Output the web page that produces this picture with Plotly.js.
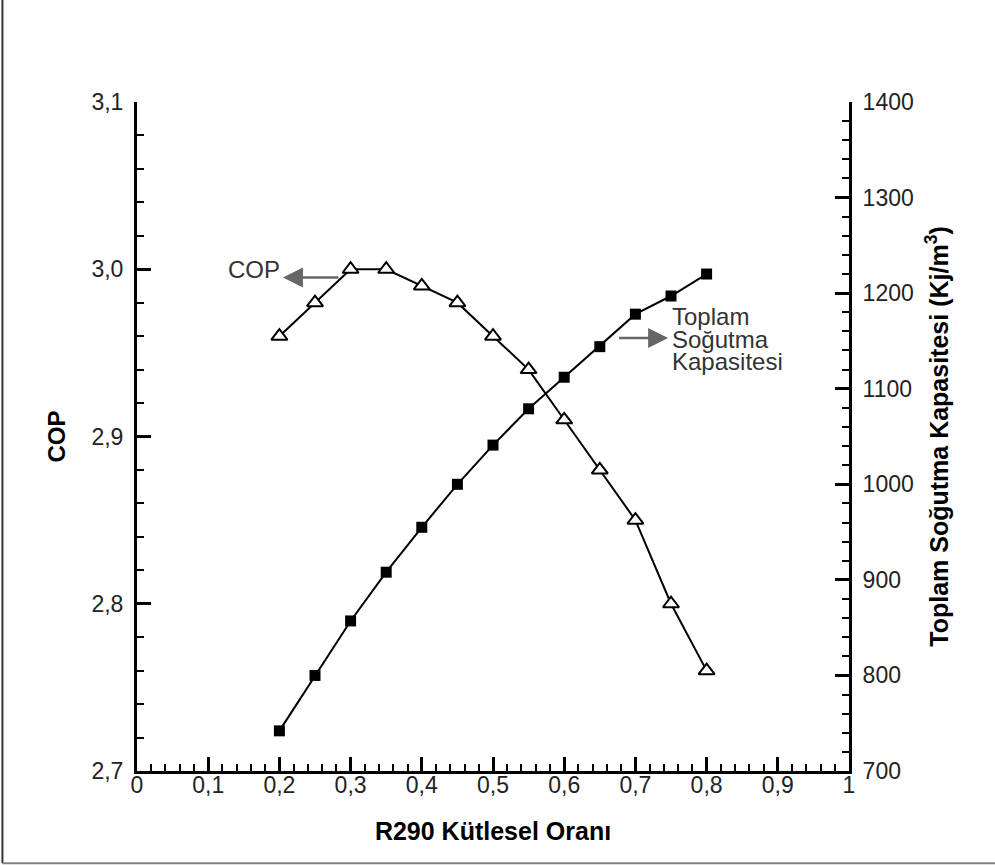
<!DOCTYPE html>
<html>
<head>
<meta charset="utf-8">
<script src="https://cdn.plot.ly/plotly-3.0.1.min.js"></script>
<style>html,body{margin:0;padding:0;background:#fff;}#chart{width:995px;height:865px;}</style>
</head>
<body>
<div id="chart"></div>
<script>
const massRatio = [0.2, 0.25, 0.3, 0.35, 0.4, 0.45, 0.5, 0.55, 0.6, 0.65, 0.7, 0.75, 0.8];
const copValues = [2.96, 2.98, 3.00, 3.00, 2.99, 2.98, 2.96, 2.94, 2.91, 2.88, 2.85, 2.80, 2.76];
const capacityValues = [742, 800, 857, 908, 955, 1000, 1041, 1079, 1112, 1144, 1178, 1197, 1220];
const xTitle = 'R290 Kütlesel Oranı';
const yTitle = 'COP';
const y2Title = 'Toplam Soğutma Kapasitesi (Kj/m<sup>3</sup>)';
const copLabel = 'COP';
const capLabelLines = ['Toplam', 'Soğutma', 'Kapasitesi'];

const FONT = 'Liberation Sans, Arial, sans-serif';

const traces = [
  {
    x: massRatio, y: copValues, yaxis: 'y', type: 'scatter', mode: 'lines+markers',
    line: {color: '#000', width: 2},
    marker: {symbol: 'triangle-up', size: 14, color: '#fff', line: {color: '#000', width: 2}},
    showlegend: false
  },
  {
    x: massRatio, y: capacityValues, yaxis: 'y2', type: 'scatter', mode: 'lines+markers',
    line: {color: '#000', width: 2},
    marker: {symbol: 'square', size: 11, color: '#000', line: {color: '#000', width: 0}},
    showlegend: false
  }
];

const axisCommon = {
  showgrid: false, zeroline: false, showline: true, linecolor: '#000', linewidth: 3,
  ticks: 'inside', ticklen: 14, tickwidth: 3, tickcolor: '#000',
  tickfont: {family: FONT, size: 23, color: '#222'}
};

const layout = {
  width: 995, height: 865,
  margin: {l: 137, r: 146, t: 102, b: 94},
  paper_bgcolor: '#fff', plot_bgcolor: '#fff',
  separators: ', ',
  font: {family: FONT, color: '#000'},
  xaxis: Object.assign({}, axisCommon, {
    range: [0, 1], tick0: 0, dtick: 0.1,
    minor: {ticks: 'inside', ticklen: 7, tickwidth: 2, tickcolor: '#000', dtick: 0.02, tick0: 0},
    title: {text: xTitle, font: {family: FONT, size: 25, color: '#000', weight: 'bold'}, standoff: 26},
    ticklabelstandoff: -9
  }),
  yaxis: Object.assign({}, axisCommon, {
    range: [2.7, 3.1], tick0: 2.7, dtick: 0.1, tickformat: '.1f',
    minor: {ticks: 'inside', ticklen: 7, tickwidth: 2, tickcolor: '#000', dtick: 0.02, tick0: 2.7},
    title: {text: yTitle, font: {family: FONT, size: 24, color: '#000', weight: 'bold'}, standoff: 20},
    ticklabelstandoff: 6
  }),
  yaxis2: Object.assign({}, axisCommon, {
    overlaying: 'y', side: 'right',
    range: [700, 1400], tick0: 700, dtick: 100,
    minor: {ticks: 'inside', ticklen: 7, tickwidth: 2, tickcolor: '#000', dtick: 20, tick0: 700},
    title: {text: y2Title, font: {family: FONT, size: 25, color: '#000', weight: 'bold'}, standoff: 18},
    ticklabelstandoff: 6
  }),
  annotations: [
    {xref: 'x', yref: 'y', axref: 'x', ayref: 'y', x: 0.205, y: 2.995, ax: 0.285, ay: 2.995,
     text: '', showarrow: true, arrowhead: 2, arrowsize: 1.6, arrowwidth: 2.5, arrowcolor: '#666', standoff: 0, startstandoff: 0},
    {xref: 'x', yref: 'y', x: 0.165, y: 3.0, text: copLabel, showarrow: false,
     font: {family: FONT, size: 24, color: '#333'}, xanchor: 'center', yanchor: 'middle'},
    {xref: 'x', yref: 'y2', axref: 'x', ayref: 'y2', x: 0.746, y: 1153, ax: 0.675, ay: 1153,
     text: '', showarrow: true, arrowhead: 2, arrowsize: 1.6, arrowwidth: 2.5, arrowcolor: '#666', standoff: 0, startstandoff: 0},
    {xref: 'x', yref: 'y2', x: 0.749, y: 1176, text: capLabelLines[0], showarrow: false,
     font: {family: FONT, size: 24, color: '#333'}, xanchor: 'left', yanchor: 'middle'},
    {xref: 'x', yref: 'y2', x: 0.749, y: 1152, text: capLabelLines[1], showarrow: false,
     font: {family: FONT, size: 24, color: '#333'}, xanchor: 'left', yanchor: 'middle'},
    {xref: 'x', yref: 'y2', x: 0.749, y: 1129, text: capLabelLines[2], showarrow: false,
     font: {family: FONT, size: 24, color: '#333'}, xanchor: 'left', yanchor: 'middle'}
  ],
  shapes: [
    {type: 'line', xref: 'paper', yref: 'paper', x0: -0.189, x1: -0.189, y0: -0.138, y1: 1.16,
     line: {color: '#333', width: 2}},
    {type: 'line', xref: 'paper', yref: 'paper', x0: -0.189, x1: 1.21, y0: -0.138, y1: -0.138,
     line: {color: '#808080', width: 2}}
  ]
};

Plotly.newPlot('chart', traces, layout, {displayModeBar: false, staticPlot: true});
</script>
</body>
</html>
